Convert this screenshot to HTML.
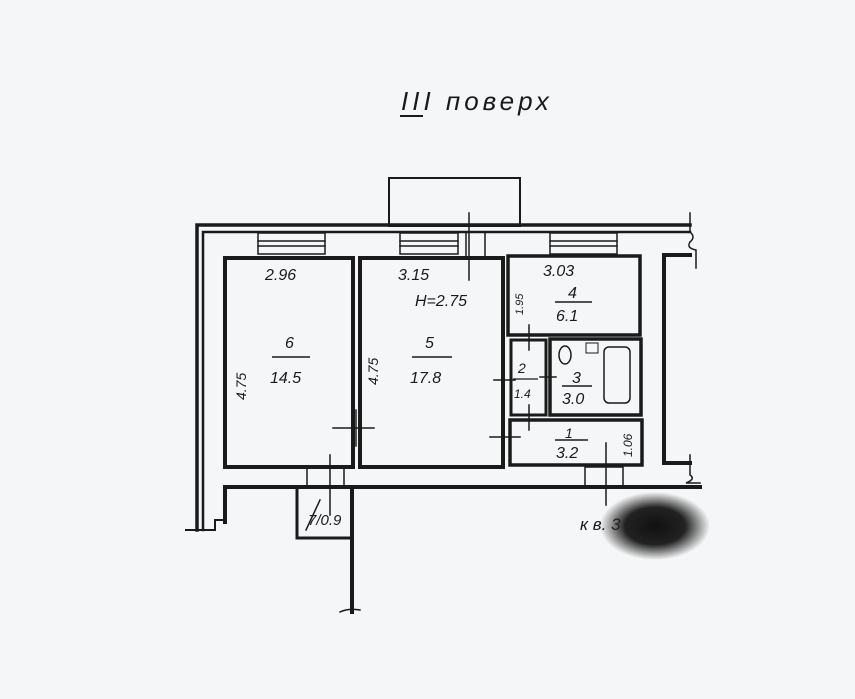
<!DOCTYPE html>
<html><head><meta charset="utf-8"><style>
html,body{margin:0;padding:0;background:#f5f6f7;}
svg{display:block}
text{font-family:"Liberation Sans",sans-serif;font-style:italic;fill:#1a1a1a}
</style></head><body>
<svg width="855" height="699" viewBox="0 0 855 699" xmlns="http://www.w3.org/2000/svg">
<rect width="855" height="699" fill="#f5f6f7"/>
<defs><radialGradient id="b"><stop offset="0" stop-color="#111"/><stop offset="0.55" stop-color="#222"/><stop offset="1" stop-color="#222" stop-opacity="0"/></radialGradient></defs>
<g stroke="#1a1a1a" fill="none" stroke-linecap="square">
<text x="401" y="110" font-size="26" stroke="none" style="letter-spacing:4px">III поверх</text>
<line x1="401" y1="116" x2="422" y2="116" stroke-width="2"/>
<rect x="389" y="178" width="131" height="48" stroke-width="2"/>
<path d="M197 530 V225 H690" stroke-width="3.5"/>
<path d="M203 530 V232 H690" stroke-width="2.5"/>
<path d="M690 213 V232 M690 232 q6 5 0 10 M690 242 q-4 6 6 8 V268" stroke-width="1.5"/>
<g stroke-width="1.5">
<rect x="258" y="233" width="67" height="21"/><line x1="258" y1="241" x2="325" y2="241"/><line x1="258" y1="246" x2="325" y2="246"/>
<rect x="400" y="233" width="58" height="21"/><line x1="400" y1="241" x2="458" y2="241"/><line x1="400" y1="246" x2="458" y2="246"/>
<rect x="550" y="233" width="67" height="21"/><line x1="550" y1="241" x2="617" y2="241"/><line x1="550" y1="246" x2="617" y2="246"/>
<line x1="466" y1="232" x2="466" y2="256"/><line x1="485" y1="232" x2="485" y2="256"/>
<line x1="469" y1="213" x2="469" y2="280"/>
</g>
<rect x="225" y="258" width="128" height="209" stroke-width="4"/>
<rect x="360" y="258" width="143" height="209" stroke-width="4"/>
<rect x="508" y="256" width="132" height="79" stroke-width="3.5"/>
<rect x="511" y="340" width="35" height="75" stroke-width="3"/>
<rect x="550" y="339" width="91" height="76" stroke-width="3.5"/>
<rect x="510" y="420" width="132" height="45" stroke-width="3.5"/>
<path d="M690 255 H664 V463 H690" stroke-width="4"/>
<path d="M690 455 V475 q6 4 -4 8 H700" stroke-width="1.5"/>
<path d="M225 522 V487 H700" stroke-width="4"/>
<path d="M186 530 H215 V520 H225" stroke-width="2"/>
<g stroke-width="1.5">
<rect x="307" y="467" width="37" height="19"/>
<rect x="585" y="467" width="38" height="19"/>
<line x1="330" y1="455" x2="330" y2="515"/>
<line x1="606" y1="443" x2="606" y2="505"/>
<line x1="333" y1="428" x2="374" y2="428"/><line x1="356" y1="410" x2="356" y2="446"/>
<line x1="490" y1="437" x2="520" y2="437"/>
<line x1="494" y1="380" x2="515" y2="380"/>
<line x1="529" y1="325" x2="529" y2="350"/>
<line x1="529" y1="405" x2="529" y2="430"/>
<line x1="540" y1="377" x2="556" y2="377"/>
</g>
<path d="M297 490 V538 H352" stroke-width="3"/>
<path d="M352 490 V612" stroke-width="4"/>
<path d="M340 612 q8 -4 20 -2" stroke-width="1.5"/>
<line x1="306" y1="530" x2="320" y2="500" stroke-width="1.5"/>
<rect x="604" y="347" width="26" height="56" rx="5" stroke-width="1.5"/>
<ellipse cx="565" cy="355" rx="6" ry="9" stroke-width="1.5"/>
<rect x="586" y="343" width="12" height="10" stroke-width="1"/>
</g>
<g stroke="none" font-size="16">
<text x="265" y="280">2.96</text>
<text x="398" y="280">3.15</text>
<text x="415" y="306">H=2.75</text>
<text x="543" y="276">3.03</text>
<text x="285" y="348">6</text><line x1="272" y1="357" x2="310" y2="357" stroke="#1a1a1a" stroke-width="1.5"/>
<text x="270" y="383">14.5</text>
<text x="425" y="348">5</text><line x1="412" y1="357" x2="452" y2="357" stroke="#1a1a1a" stroke-width="1.5"/>
<text x="410" y="383">17.8</text>
<text x="568" y="298">4</text><line x1="555" y1="302" x2="592" y2="302" stroke="#1a1a1a" stroke-width="1.5"/>
<text x="556" y="321">6.1</text>
<text x="518" y="373" font-size="14">2</text><line x1="513" y1="379" x2="538" y2="379" stroke="#1a1a1a" stroke-width="1.2"/>
<text x="514" y="398" font-size="12">1.4</text>
<text x="572" y="383">3</text><line x1="562" y1="386" x2="592" y2="386" stroke="#1a1a1a" stroke-width="1.5"/>
<text x="562" y="404">3.0</text>
<text x="565" y="438" font-size="14">1</text><line x1="555" y1="440" x2="588" y2="440" stroke="#1a1a1a" stroke-width="1.5"/>
<text x="556" y="458">3.2</text>
<text x="308" y="525" font-size="15">7/0.9</text>
<text x="580" y="530" font-size="17">к в. 3</text>
<text transform="translate(246,400) rotate(-90)" font-size="14">4.75</text>
<text transform="translate(378,385) rotate(-90)" font-size="14">4.75</text>
<text transform="translate(523,315) rotate(-90)" font-size="11">1.95</text>
<text transform="translate(632,457) rotate(-90)" font-size="12">1.06</text>
</g>
<ellipse cx="655" cy="526" rx="55" ry="34" fill="url(#b)"/>
</svg>
</body></html>
